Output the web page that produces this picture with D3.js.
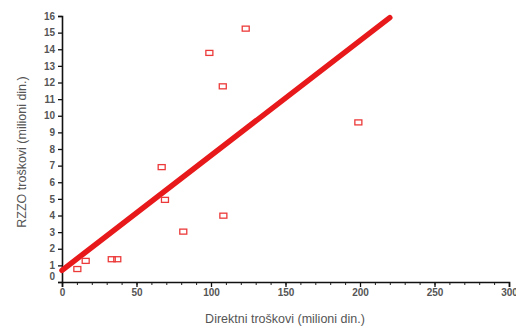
<!DOCTYPE html>
<html>
<head>
<meta charset="utf-8">
<script src="https://cdn.jsdelivr.net/npm/d3@7"></script>
<style>
  body { margin: 0; background: #fff; }
  text { font-family: Arial, "Liberation Sans", sans-serif; }
</style>
</head>
<body>
<svg id="chart"></svg>
<script>
// values
const directCosts = [10.3, 15.9, 33.4, 37.1, 66.9, 69.1, 81.4, 98.9, 107.9, 108.3, 123.3, 198.9];
const rzzoCosts = [0.78, 1.27, 1.37, 1.37, 6.91, 4.94, 3.03, 13.78, 11.77, 3.99, 15.24, 9.6];
const fitX = [0, 220];
const fitY = [0.7, 15.9];
const xTicks = [0, 50, 100, 150, 200, 250, 300];
const yTicks = d3.range(0, 17);

const width = 516;
const height = 328;
const margin = { top: 16, right: 7, bottom: 46, left: 62 };

const svg = d3.select('#chart')
  .attr('width', width)
  .attr('height', height);

const innerWidth = width - margin.left - margin.right;
const innerHeight = height - margin.top - margin.bottom;

const x = d3.scaleLinear().domain([0, 300]).range([0, innerWidth]);
const y = d3.scaleLinear().domain([0, 16]).range([innerHeight, 0]);

const g = svg.append('g')
  .attr('transform', `translate(${margin.left}, ${margin.top})`);

// minor x ticks every 10
g.append('g')
  .attr('transform', `translate(0, ${innerHeight})`)
  .call(d3.axisBottom(x).tickValues(d3.range(0, 301, 10)).tickSize(3).tickFormat(''))
  .call(a => a.select('.domain').remove())
  .selectAll('line').attr('stroke', '#222');

const xAxis = g.append('g')
  .attr('transform', `translate(0, ${innerHeight})`)
  .call(d3.axisBottom(x).tickValues(xTicks).tickSizeOuter(0).tickSize(5).tickPadding(2));

const yAxis = g.append('g')
  .call(d3.axisLeft(y).tickValues(yTicks).tickSizeOuter(0).tickSize(4).tickPadding(3));

[xAxis, yAxis].forEach(a => {
  a.select('.domain').attr('stroke', '#111').attr('stroke-width', 1.6);
  a.selectAll('.tick line').attr('stroke', '#111').attr('stroke-width', 1.3);
  a.selectAll('.tick text')
    .attr('fill', '#555')
    .attr('font-size', 10)
    .attr('font-weight', 'bold')
    .attr('font-family', 'Arial, "Liberation Sans", sans-serif');
});

// lift the y "0" a little, as in the source
yAxis.selectAll('.tick').filter(d => d === 0).select('text').attr('dy', '-0.3em');

// regression line
const line = d3.line().x(d => x(d[0])).y(d => y(d[1]));
g.append('path')
  .datum(d3.zip(fitX, fitY))
  .attr('d', line)
  .attr('fill', 'none')
  .attr('stroke', '#e8191b')
  .attr('stroke-width', 5.5)
  .attr('stroke-linecap', 'round');

// points
g.selectAll('.pt')
  .data(d3.zip(directCosts, rzzoCosts))
  .enter().append('rect')
    .attr('class', 'pt')
    .attr('x', d => x(d[0]) - 3.5)
    .attr('y', d => y(d[1]) - 2.5)
    .attr('width', 7)
    .attr('height', 5)
    .attr('fill', 'none')
    .attr('stroke', '#ec3a3a')
    .attr('stroke-width', 1.3);

// axis titles
svg.append('text')
  .attr('x', 285)
  .attr('y', 323)
  .attr('text-anchor', 'middle')
  .attr('font-size', 12.5)
  .attr('fill', '#555')
  .text('Direktni troškovi (milioni din.)');

svg.append('text')
  .attr('transform', 'translate(26, 152) rotate(-90)')
  .attr('text-anchor', 'middle')
  .attr('font-size', 12.5)
  .attr('fill', '#555')
  .text('RZZO troškovi (milioni din.)');
</script>
</body>
</html>
